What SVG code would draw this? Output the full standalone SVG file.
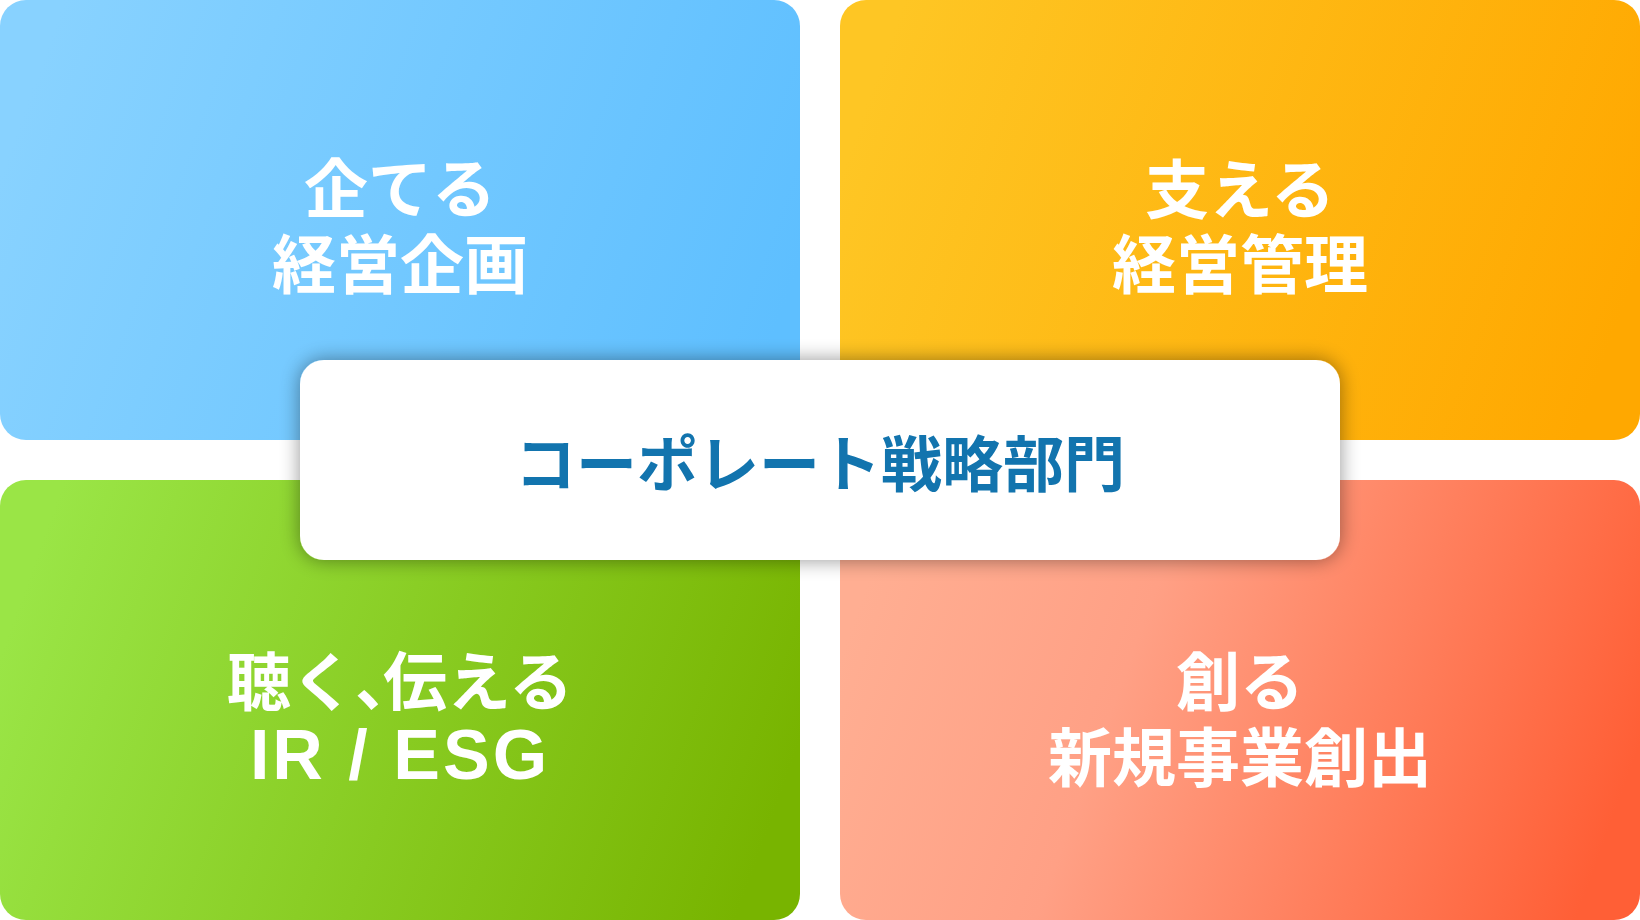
<svg xmlns="http://www.w3.org/2000/svg" width="1640" height="920" viewBox="0 0 1640 920">
  <style>
    .lbl { font-family: "Noto Sans CJK JP", "Noto Sans", sans-serif; font-weight: 700; font-size: 64px; fill: #FFFFFF; text-anchor: middle; dominant-baseline: central; }
    .lat { font-family: "Liberation Sans", Arial, sans-serif; font-weight: 700; font-size: 70px; letter-spacing: 3px; }
    .ctr { font-family: "Noto Sans CJK JP", "Noto Sans", sans-serif; font-weight: 700; font-size: 61px; fill: #1274AE; text-anchor: middle; dominant-baseline: central; }
  </style>
  <defs>
    <linearGradient id="gBlue" x1="0" y1="0.4" x2="1" y2="0.6">
      <stop offset="0" stop-color="#88D2FF"/>
      <stop offset="1" stop-color="#5EBFFF"/>
    </linearGradient>
    <linearGradient id="gOrange" x1="0" y1="0.4" x2="1" y2="0.6">
      <stop offset="0" stop-color="#FEC624"/>
      <stop offset="1" stop-color="#FFA800"/>
    </linearGradient>
    <linearGradient id="gGreen" x1="0" y1="0.4" x2="1" y2="0.6">
      <stop offset="0" stop-color="#9AE546"/>
      <stop offset="1" stop-color="#78B400"/>
    </linearGradient>
    <linearGradient id="gRed" x1="0" y1="0.4" x2="1" y2="0.6">
      <stop offset="0" stop-color="#FFAE92"/>
      <stop offset="0.35" stop-color="#FFA085"/>
      <stop offset="1" stop-color="#FF5F36"/>
    </linearGradient>
    <filter id="shadow" x="-10%" y="-30%" width="120%" height="160%">
      <feGaussianBlur in="SourceAlpha" stdDeviation="10"/>
      <feComponentTransfer>
        <feFuncA type="linear" slope="0.42"/>
      </feComponentTransfer>
      <feMerge>
        <feMergeNode/>
        <feMergeNode in="SourceGraphic"/>
      </feMerge>
    </filter>
  </defs>
  <rect width="1640" height="920" fill="#FFFFFF"/>

  <g id="plan">
    <rect x="0" y="0" width="800" height="440" rx="26" fill="url(#gBlue)"/>
    <text class="lbl"><tspan x="400" y="184">企てる</tspan><tspan x="400" y="260">経営企画</tspan></text>
  </g>

  <g id="support">
    <rect x="840" y="0" width="800" height="440" rx="26" fill="url(#gOrange)"/>
    <text class="lbl"><tspan x="1240" y="185">支える</tspan><tspan x="1240" y="260">経営管理</tspan></text>
  </g>

  <g id="ir-esg">
    <rect x="0" y="480" width="800" height="440" rx="26" fill="url(#gGreen)"/>
    <text class="lbl"><tspan x="400" y="677">聴く、<tspan dx="-36">伝える</tspan></tspan><tspan class="lat" x="400" y="755">IR / ESG</tspan></text>
  </g>

  <g id="new-business">
    <rect x="840" y="480" width="800" height="440" rx="26" fill="url(#gRed)"/>
    <text class="lbl"><tspan x="1240" y="677">創る</tspan><tspan x="1240" y="753">新規事業創出</tspan></text>
  </g>

  <g id="connectors"></g>

  <g id="corporate-strategy">
    <rect x="300" y="360" width="1040" height="200" rx="24" fill="#FFFFFF" filter="url(#shadow)"/>
    <text class="ctr" x="820" y="460">コーポレート戦略部門</text>
  </g>
</svg>
